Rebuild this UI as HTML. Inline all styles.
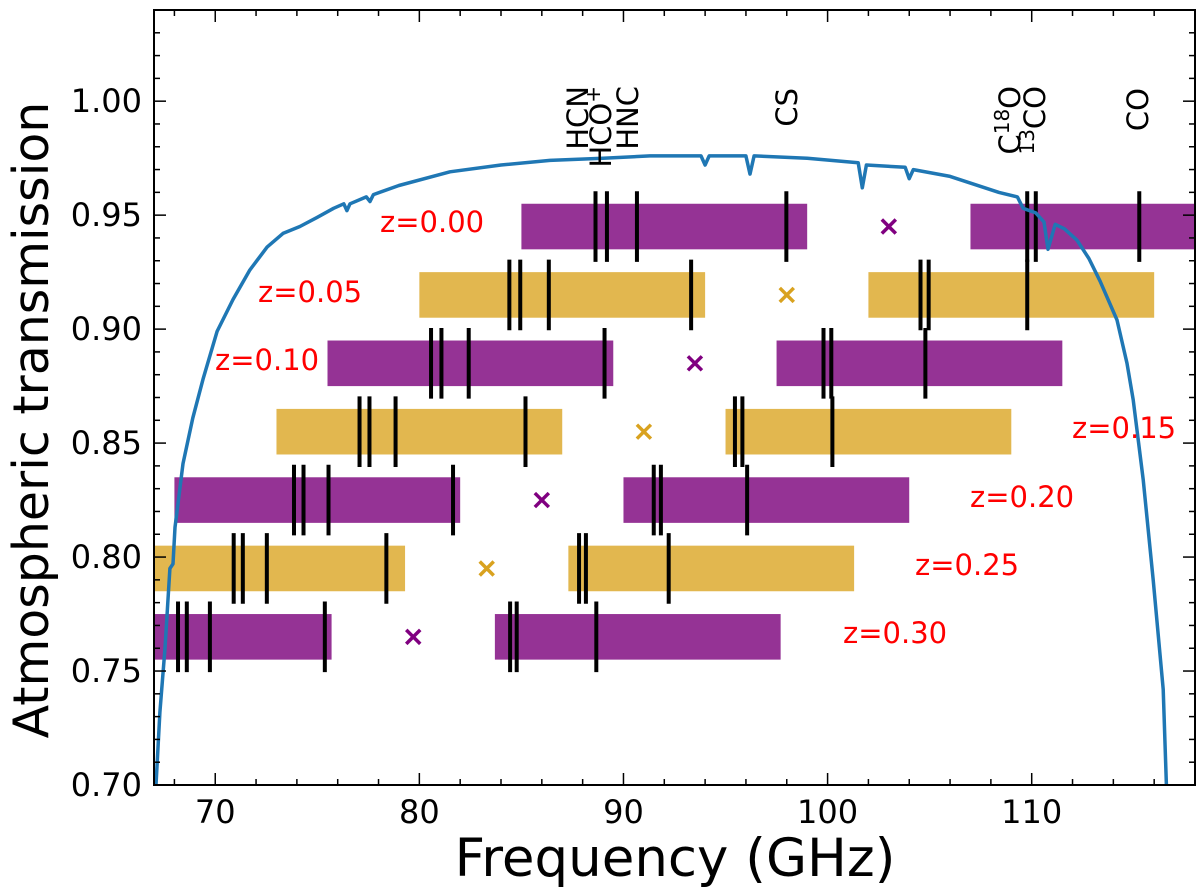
<!DOCTYPE html>
<html><head><meta charset="utf-8"><style>
body{margin:0;background:#fff}
svg{display:block;font-family:"DejaVu Sans","Liberation Sans",sans-serif}
</style></head><body>
<svg id="chart" width="1200" height="896" viewBox="0 0 1200 896">
<g id="plot"></g>
</svg>
<script>
const restNames=["HCN","HCO+","HNC","CS","C18O","13CO","CO"];
const restFreqs=[88.63,89.19,90.66,97.98,109.78,110.20,115.27];
const redshifts=[0.00,0.05,0.10,0.15,0.20,0.25,0.30];
const bandLow1=[85,80,75.5,73,68,65.3,61.7];
const bandLow2=[107,102,97.5,95,90,87.3,83.7];
const bandWidth=14;
const crossFreqs=[103,98,93.5,91,86,83.3,79.7];
const curveFreq=[67.1,67.29,67.54,67.78,67.93,68.03,68.42,68.9,69.4,70.09,70.87,71.7,72.54,73.32,74.15,74.99,75.8,76.3,76.45,76.6,77.4,77.58,77.75,79,81.5,84,86.4,89,91.3,93.8,94.0,94.2,96.0,96.2,96.4,99,101.5,101.7,101.9,103.8,104.0,104.2,106,108.4,109.3,109.58,110.2,110.6,110.8,111.15,111.6,112.22,112.8,113.35,114.18,114.67,114.97,115.46,115.95,116.44,116.6];
const curveTrans=[0.70,0.732,0.760,0.795,0.797,0.813,0.841,0.861,0.878,0.899,0.913,0.926,0.936,0.942,0.945,0.949,0.953,0.955,0.952,0.955,0.958,0.956,0.959,0.963,0.969,0.972,0.974,0.975,0.976,0.976,0.972,0.976,0.976,0.968,0.976,0.975,0.973,0.962,0.972,0.971,0.966,0.970,0.967,0.960,0.958,0.953,0.951,0.947,0.935,0.946,0.944,0.939,0.931,0.921,0.904,0.885,0.869,0.834,0.790,0.742,0.70];
const xTicks=[70,80,90,100,110];
const yTicks=[0.70,0.75,0.80,0.85,0.90,0.95,1.00];
const labelPix=[[578,86],[601,86],[628,86],[787,88],[1010,86],[1035,86],[1138,88]];
const zLabelPos=[[380,222],[258,292],[215,360],[1072,428],[970,497],[915,565],[843,633]];

const X0=154,X1=1195,Y0=10,Y1=785,XMIN=67,XMAX=118,YMIN=0.70,YMAX=1.04;
const sx=f=>X0+(f-XMIN)/(XMAX-XMIN)*(X1-X0);
const sy=t=>Y1-(t-YMIN)/(YMAX-YMIN)*(Y1-Y0);
const NS="http://www.w3.org/2000/svg";
const plot=document.getElementById('plot');
function mk(tag,attrs,parent){const e=document.createElementNS(NS,tag);for(const k in attrs)e.setAttribute(k,attrs[k]);(parent||plot).appendChild(e);return e;}
const defs=mk('defs',{});const cp=mk('clipPath',{id:'clip'},defs);mk('rect',{x:X0,y:Y0,width:X1-X0,height:Y1-Y0},cp);
const g=mk('g',{'clip-path':'url(#clip)'});
const purple="#953395",gold="#e2b74f";
redshifts.forEach((z,i)=>{
  const yc=0.945-z*0.6;const col=i%2?gold:purple;
  [bandLow1[i],bandLow2[i]].forEach((lo,j)=>{
    const r=mk('rect',{x:sx(lo),y:sy(yc+0.01),width:sx(lo+bandWidth)-sx(lo),height:sy(yc-0.01)-sy(yc+0.01),fill:col},g);
    
    
    restFreqs.forEach((rf,k)=>{const f=rf/(1+z);
      if(f>=lo&&f<=lo+bandWidth){const l=mk('line',{x1:sx(f),x2:sx(f),y1:sy(yc+0.0155),y2:sy(yc-0.0155),stroke:'#000','stroke-width':4},g);
      
      }});
  });
  const cx=sx(crossFreqs[i]),cy=sy(yc);
  const c=mk('path',{d:`M${cx-7},${cy-7}L${cx+7},${cy+7}M${cx-7},${cy+7}L${cx+7},${cy-7}`,stroke:i%2?'#d9a21f':'#800080','stroke-width':3.5},g);
  
  
  const t=mk('text',{x:zLabelPos[i][0],y:zLabelPos[i][1]+10,fill:'red','font-size':29});t.textContent='z='+z.toFixed(2);
  
  
});
const pts=curveFreq.map((f,i)=>sx(f).toFixed(1)+','+sy(curveTrans[i]).toFixed(1)).join(' ');
const cv=mk('polyline',{points:pts,fill:'none',stroke:'#1f77b4','stroke-width':3.5,'stroke-linejoin':'round'},g);


const fr=mk('rect',{x:X0,y:Y0,width:X1-X0,height:Y1-Y0,fill:'none',stroke:'#000','stroke-width':2});


for(let f=68;f<=118;f+=2){const major=xTicks.includes(f);const L=major?12:6;
  mk('line',{x1:sx(f),x2:sx(f),y1:Y1,y2:Y1-L,stroke:'#000','stroke-width':1.5});
  mk('line',{x1:sx(f),x2:sx(f),y1:Y0,y2:Y0+L,stroke:'#000','stroke-width':1.5});}
xTicks.forEach(f=>{const t=mk('text',{x:sx(f),y:823,'text-anchor':'middle','font-size':32});t.textContent=f;
  
  });
for(let k=0;k<=34;k++){const v=0.70+k*0.01;const major=k%5==0;const L=major?12:6;
  mk('line',{x1:X0,x2:X0+L,y1:sy(v),y2:sy(v),stroke:'#000','stroke-width':1.5});
  mk('line',{x1:X1,x2:X1-L,y1:sy(v),y2:sy(v),stroke:'#000','stroke-width':1.5});}
yTicks.forEach(v=>{const t=mk('text',{x:142,y:sy(v)+11,'text-anchor':'end','font-size':32});t.textContent=v.toFixed(2);
  
  });
restNames.forEach((n,i)=>{const [px,py]=labelPix[i];
  const t=mk('text',{x:0,y:0,'font-size':29,'text-anchor':'end',transform:`translate(${px+10},${py}) rotate(-90)`});
  if(n=="HCO+"){t.innerHTML='HCO<tspan dy="-11" font-size="20">+</tspan>';}
  else if(n=="C18O"){t.innerHTML='C<tspan dy="-11" font-size="20">18</tspan><tspan dy="11">O</tspan>';}
  else if(n=="13CO"){t.innerHTML='<tspan dy="-11" font-size="20">13</tspan><tspan dy="11">CO</tspan>';}
  else t.textContent=n;
  
  });
const xl=mk('text',{x:675,y:876,'text-anchor':'middle','font-size':53});xl.textContent='Frequency (GHz)';


const yl=mk('text',{x:0,y:0,'text-anchor':'middle','font-size':49,transform:'translate(48,420) rotate(-90)'});yl.textContent='Atmospheric transmission';


</script>
</body></html>
